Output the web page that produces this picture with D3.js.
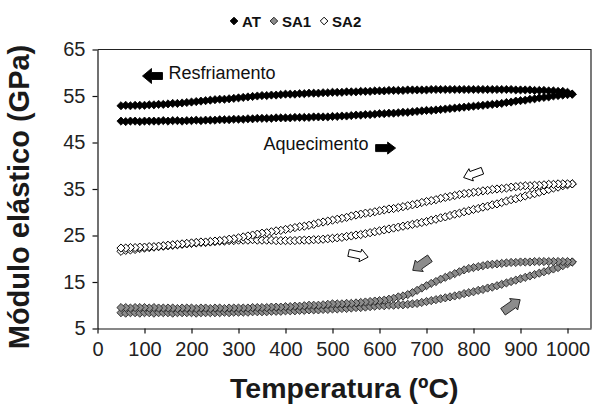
<!DOCTYPE html>
<html>
<head>
<meta charset="utf-8">
<script src="https://cdn.jsdelivr.net/npm/d3@7"></script>
<style>
  html, body { margin: 0; padding: 0; background: #fff; }
  svg { display: block; font-family: "Liberation Sans", Arial, Helvetica, sans-serif; }
</style>
</head>
<body>
<svg id="chart" width="613" height="405"></svg>
<script>
// Temperature steps (ºC) shared by every branch
const temperature = [
  50, 60, 70, 80, 90, 100, 110, 120, 130, 140,
  150, 160, 170, 180, 190, 200, 210, 220, 230, 240,
  250, 260, 270, 280, 290, 300, 310, 320, 330, 340,
  350, 360, 370, 380, 390, 400, 410, 420, 430, 440,
  450, 460, 470, 480, 490, 500, 510, 520, 530, 540,
  550, 560, 570, 580, 590, 600, 610, 620, 630, 640,
  650, 660, 670, 680, 690, 700, 710, 720, 730, 740,
  750, 760, 770, 780, 790, 800, 810, 820, 830, 840,
  850, 860, 870, 880, 890, 900, 910, 920, 930, 940,
  950, 960, 970, 980, 990, 1000, 1010
];

// Elastic modulus (GPa); heating runs 50 -> 1010 ºC, cooling values are listed
// at the same temperatures and are traversed 1010 -> 50 ºC
const atHeating = [
  49.6, 49.5, 49.6, 49.6, 49.5, 49.6, 49.6, 49.6, 49.6, 49.7,
  49.6, 49.7, 49.7, 49.6, 49.7, 49.7, 49.8, 49.7, 49.8, 49.8,
  49.8, 49.9, 49.9, 49.9, 50.0, 50.0, 50.0, 50.1, 50.1, 50.2,
  50.2, 50.2, 50.2, 50.3, 50.3, 50.3, 50.3, 50.4, 50.4, 50.4,
  50.4, 50.5, 50.5, 50.5, 50.5, 50.6, 50.6, 50.7, 50.7, 50.8,
  50.9, 50.9, 51.0, 51.0, 51.1, 51.2, 51.2, 51.3, 51.3, 51.4,
  51.5, 51.5, 51.6, 51.7, 51.8, 51.9, 51.9, 52.0, 52.1, 52.2,
  52.3, 52.4, 52.5, 52.6, 52.7, 52.8, 52.9, 53.0, 53.1, 53.2,
  53.3, 53.4, 53.6, 53.7, 53.9, 54.0, 54.1, 54.3, 54.4, 54.6,
  54.7, 54.8, 55.0, 55.1, 55.2, 55.3, 55.4
];
const atCooling = [
  52.9, 53.0, 52.9, 53.0, 53.0, 53.0, 53.1, 53.1, 53.2, 53.2,
  53.3, 53.4, 53.4, 53.5, 53.6, 53.7, 53.8, 53.9, 54.0, 54.1,
  54.2, 54.3, 54.3, 54.4, 54.5, 54.6, 54.7, 54.8, 54.9, 55.0,
  55.1, 55.1, 55.2, 55.2, 55.3, 55.4, 55.4, 55.4, 55.5, 55.5,
  55.6, 55.6, 55.6, 55.7, 55.7, 55.8, 55.8, 55.8, 55.9, 55.9,
  55.9, 56.0, 56.0, 56.0, 56.1, 56.1, 56.1, 56.2, 56.2, 56.2,
  56.2, 56.3, 56.3, 56.3, 56.3, 56.3, 56.4, 56.4, 56.4, 56.4,
  56.4, 56.4, 56.4, 56.4, 56.4, 56.4, 56.4, 56.4, 56.4, 56.4,
  56.4, 56.4, 56.4, 56.4, 56.3, 56.3, 56.3, 56.3, 56.2, 56.2,
  56.2, 56.1, 56.1, 56.0, 56.0, 55.8, 55.4
];
const sa1Heating = [
  8.4, 8.3, 8.4, 8.4, 8.3, 8.4, 8.4, 8.3, 8.4, 8.4,
  8.4, 8.3, 8.4, 8.4, 8.4, 8.4, 8.3, 8.4, 8.4, 8.4,
  8.4, 8.4, 8.5, 8.4, 8.5, 8.5, 8.5, 8.5, 8.6, 8.6,
  8.6, 8.6, 8.7, 8.7, 8.7, 8.8, 8.8, 8.8, 8.9, 8.9,
  9.0, 9.0, 9.0, 9.1, 9.1, 9.2, 9.2, 9.3, 9.3, 9.4,
  9.5, 9.5, 9.6, 9.7, 9.8, 9.9, 9.9, 10.0, 10.0, 10.1,
  10.1, 10.2, 10.3, 10.4, 10.6, 10.8, 11.0, 11.2, 11.4, 11.6,
  11.8, 12.0, 12.2, 12.5, 12.7, 12.9, 13.2, 13.4, 13.7, 13.9,
  14.2, 14.5, 14.8, 15.1, 15.4, 15.7, 16.0, 16.3, 16.6, 16.9,
  17.2, 17.5, 17.8, 18.1, 18.5, 18.9, 19.3
];
const sa1Cooling = [
  9.5, 9.5, 9.4, 9.5, 9.5, 9.5, 9.4, 9.5, 9.4, 9.4,
  9.4, 9.4, 9.3, 9.4, 9.4, 9.4, 9.3, 9.4, 9.4, 9.3,
  9.4, 9.4, 9.3, 9.4, 9.4, 9.4, 9.4, 9.4, 9.5, 9.5,
  9.5, 9.5, 9.6, 9.6, 9.6, 9.7, 9.7, 9.8, 9.8, 9.9,
  10.0, 10.0, 10.0, 10.1, 10.2, 10.3, 10.3, 10.3, 10.4, 10.4,
  10.5, 10.6, 10.7, 10.8, 10.9, 11.0, 11.1, 11.3, 11.5, 11.8,
  12.0, 12.3, 12.7, 13.2, 13.7, 14.2, 14.7, 15.1, 15.6, 16.0,
  16.4, 16.8, 17.2, 17.6, 17.9, 18.1, 18.3, 18.5, 18.7, 18.8,
  18.9, 19.0, 19.1, 19.2, 19.2, 19.3, 19.3, 19.3, 19.4, 19.4,
  19.4, 19.4, 19.4, 19.4, 19.4, 19.4, 19.3
];
const sa2Heating = [
  21.6, 21.8, 21.9, 22.0, 22.2, 22.3, 22.4, 22.5, 22.6, 22.7,
  22.8, 22.9, 23.0, 23.1, 23.2, 23.3, 23.4, 23.5, 23.5, 23.6,
  23.7, 23.8, 23.8, 23.9, 23.9, 24.0, 24.0, 24.0, 24.1, 24.0,
  24.0, 24.0, 24.0, 23.9, 23.9, 23.9, 23.9, 23.9, 24.0, 24.0,
  24.0, 24.1, 24.1, 24.2, 24.3, 24.4, 24.5, 24.6, 24.8, 24.9,
  25.1, 25.2, 25.4, 25.6, 25.8, 26.0, 26.2, 26.4, 26.6, 26.8,
  27.0, 27.2, 27.4, 27.6, 27.8, 28.0, 28.3, 28.5, 28.8, 29.0,
  29.3, 29.6, 29.8, 30.1, 30.3, 30.6, 30.8, 31.1, 31.3, 31.6,
  31.8, 32.1, 32.4, 32.7, 32.9, 33.2, 33.5, 33.8, 34.0, 34.3,
  34.6, 34.9, 35.2, 35.4, 35.7, 35.9, 36.1
];
const sa2Cooling = [
  22.3, 22.3, 22.4, 22.4, 22.5, 22.5, 22.6, 22.6, 22.7, 22.8,
  22.9, 23.0, 23.1, 23.2, 23.3, 23.4, 23.5, 23.6, 23.6, 23.7,
  23.8, 23.9, 24.0, 24.2, 24.3, 24.5, 24.7, 24.9, 25.1, 25.3,
  25.5, 25.6, 25.8, 26.0, 26.1, 26.3, 26.5, 26.7, 26.9, 27.0,
  27.2, 27.4, 27.7, 27.9, 28.1, 28.3, 28.5, 28.7, 28.9, 29.2,
  29.4, 29.6, 29.8, 29.9, 30.1, 30.3, 30.5, 30.7, 30.8, 31.0,
  31.2, 31.4, 31.6, 31.8, 32.1, 32.3, 32.5, 32.7, 33.0, 33.2,
  33.4, 33.6, 33.8, 34.0, 34.1, 34.3, 34.4, 34.6, 34.7, 34.9,
  35.0, 35.1, 35.2, 35.4, 35.5, 35.6, 35.7, 35.7, 35.8, 35.8,
  35.9, 36.0, 36.0, 36.1, 36.1, 36.1, 36.1
];

const seriesNames = ["AT", "SA1", "SA2"];
const xTicks = [0, 100, 200, 300, 400, 500, 600, 700, 800, 900, 1000];
const yTicks = [5, 15, 25, 35, 45, 55, 65];

// ---- layout ----
const svg = d3.select("#chart");
const plotLeft = 97.5, plotRight = 591, plotTop = 49.5, plotBottom = 328.5;

const x = d3.scaleLinear().domain([0, 1050]).range([plotLeft, plotRight]);
const y = d3.scaleLinear().domain([5, 65]).range([plotBottom, plotTop]);

const styles = {
  AT:  { fill: "#000000", stroke: "#000000", width: 0.8 },
  SA1: { fill: "#8c8c8c", stroke: "#262626", width: 0.9 },
  SA2: { fill: "#ffffff", stroke: "#000000", width: 1.0 }
};

// heating points followed by the cooling return
function loop(heat, cool) {
  const up = temperature.map((t, i) => ({ t, v: heat[i] }));
  const down = temperature.map((t, i) => ({ t, v: cool[i] })).reverse();
  return up.concat(down);
}
const series = [
  { name: "AT",  points: loop(atHeating, atCooling) },
  { name: "SA1", points: loop(sa1Heating, sa1Cooling) },
  { name: "SA2", points: loop(sa2Heating, sa2Cooling) }
];

const diamond = r => `M0,${-r}L${r},0L0,${r}L${-r},0Z`;

// ---- axes ----
const xAxis = svg.append("g")
  .attr("transform", `translate(0,${plotBottom})`)
  .call(d3.axisBottom(x).tickValues(xTicks).tickFormat(d3.format("d"))
    .tickSize(5).tickSizeOuter(0).tickPadding(8));
const yAxis = svg.append("g")
  .attr("transform", `translate(${plotLeft},0)`)
  .call(d3.axisLeft(y).tickValues(yTicks).tickFormat(d3.format("d"))
    .tickSize(5).tickSizeOuter(0).tickPadding(7));

[xAxis, yAxis].forEach(g => {
  g.selectAll("path.domain").attr("stroke", "#111").attr("stroke-width", 1.2);
  g.selectAll(".tick line").attr("stroke", "#111").attr("stroke-width", 1.2);
  g.selectAll(".tick text")
    .attr("fill", "#222")
    .style("font-size", "20px")
    .style("font-family", "'Liberation Sans', Arial, sans-serif");
});

// frame top and right
svg.append("path")
  .attr("d", `M${plotLeft},${plotTop}H${plotRight}V${plotBottom}`)
  .attr("fill", "none")
  .attr("stroke", "#222")
  .attr("stroke-width", 1.2);

// ---- markers ----
const plot = svg.append("g");
series.forEach(s => {
  const st = styles[s.name];
  plot.append("g").selectAll("path")
    .data(s.points)
    .join("path")
    .attr("d", diamond(4.1))
    .attr("transform", d => `translate(${x(d.t)},${y(d.v)})`)
    .attr("fill", st.fill)
    .attr("stroke", st.stroke)
    .attr("stroke-width", st.width);
});

// ---- direction arrows and labels ----
function blockArrow(len, shaft, head, headLen) {
  const h = len / 2;
  return `M${-h},${-shaft / 2}L${h - headLen},${-shaft / 2}L${h - headLen},${-head / 2}` +
         `L${h},0L${h - headLen},${head / 2}L${h - headLen},${shaft / 2}L${-h},${shaft / 2}Z`;
}
const arrows = [
  { t: 117, v: 59.3, angle: 180, fill: "#000", stroke: "#000", len: 20, shaft: 7, head: 15, headLen: 9 },
  { t: 613, v: 43.8, angle: 0,   fill: "#000", stroke: "#000", len: 20, shaft: 7, head: 12, headLen: 8 },
  { t: 799, v: 38.2, angle: 160, fill: "#fff", stroke: "#000", len: 20, shaft: 7, head: 13, headLen: 8 },
  { t: 555, v: 20.8, angle: 12,  fill: "#fff", stroke: "#000", len: 20, shaft: 7, head: 13, headLen: 8 },
  { t: 689, v: 18.8, angle: 145, fill: "#8c8c8c", stroke: "#262626", len: 21, shaft: 8, head: 14, headLen: 8 },
  { t: 881, v: 9.9,  angle: -35, fill: "#8c8c8c", stroke: "#262626", len: 21, shaft: 8, head: 14, headLen: 8 }
];
svg.append("g").selectAll("path")
  .data(arrows)
  .join("path")
  .attr("d", a => blockArrow(a.len, a.shaft, a.head, a.headLen))
  .attr("transform", a => `translate(${x(a.t)},${y(a.v)}) rotate(${a.angle})`)
  .attr("fill", a => a.fill)
  .attr("stroke", a => a.stroke)
  .attr("stroke-width", 0.9);

svg.append("text")
  .attr("x", x(151)).attr("y", y(58.76))
  .attr("fill", "#111")
  .style("font-size", "18px")
  .text("Resfriamento");
svg.append("text")
  .attr("x", x(353)).attr("y", y(43.3))
  .attr("fill", "#111")
  .style("font-size", "18px")
  .text("Aquecimento");

// ---- axis titles ----
svg.append("text")
  .attr("x", (plotLeft + plotRight) / 2).attr("y", 398)
  .attr("text-anchor", "middle")
  .attr("fill", "#1a1a1a")
  .style("font-size", "28.5px").style("font-weight", "bold")
  .text("Temperatura (ºC)");
svg.append("text")
  .attr("transform", `translate(29,${(plotTop + plotBottom) / 2 + 8}) rotate(-90)`)
  .attr("text-anchor", "middle")
  .attr("fill", "#1a1a1a")
  .style("font-size", "29px").style("font-weight", "bold")
  .text("Módulo elástico (GPa)");

// ---- legend ----
const legend = svg.append("g");
let lx = 234;
seriesNames.forEach(name => {
  const st = styles[name];
  legend.append("path")
    .attr("d", diamond(3.8))
    .attr("transform", `translate(${lx},21)`)
    .attr("fill", st.fill)
    .attr("stroke", st.stroke)
    .attr("stroke-width", 1);
  const txt = legend.append("text")
    .attr("x", lx + 8).attr("y", 26.5)
    .attr("fill", "#111")
    .style("font-size", "15px").style("font-weight", "bold")
    .text(name);
  lx = lx + 8 + txt.node().getComputedTextLength() + 13;
});
</script>
</body>
</html>
